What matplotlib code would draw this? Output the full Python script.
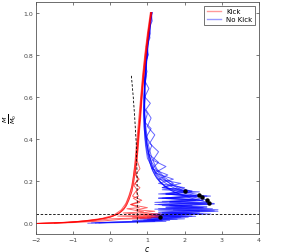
import matplotlib
matplotlib.use('Agg')
import matplotlib.pyplot as plt

# "Kick" runs (red): c values and M/M0 values
kick_c = [
    [1.1, 1.02, 0.95, 0.89, 0.84, 0.8, 0.76, 0.73, 0.7, 0.67, 0.63, 0.58, 0.52, 0.45, 0.36, 0.22, 0.0, -0.4, -1.0, -1.6, -2.0],
    [1.08, 1.0, 0.93, 0.87, 0.82, 0.77, 0.73, 0.69, 0.66, 0.62, 0.57, 0.5, 0.42, 0.3, 0.1, -0.2, -0.7, -1.3, -1.9],
    [1.12, 1.04, 0.97, 0.91, 0.86, 0.82, 0.78, 0.75, 0.72, 0.8, 0.68, 0.78, 0.66, 0.8, 0.7, 0.76, 0.62, 0.8, 0.55, 0.78,
     0.45, 0.9, 0.35, 1.1, 0.2, 1.3, 0.0, -0.5, -1.2, -2.0],
    [1.1, 1.03, 0.96, 0.9, 0.85, 0.8, 0.76, 0.73, 0.7, 0.66, 0.62, 0.58, 0.5, 0.42, 0.3, 0.15, -0.1, -0.6, -1.2, -2.0],
    [1.11, 1.02, 0.96, 0.9, 0.85, 0.81, 0.77, 0.74, 0.71, 0.68, 0.75, 0.64, 0.72, 0.6, 0.85, 0.55, 1.0, 0.7, 1.2, 0.8,
     1.35, 0.9, 1.4, 0.6, 1.1, 0.3, -0.2, -0.9, -1.5],
    [1.09, 1.01, 0.94, 0.88, 0.83, 0.79, 0.75, 0.71, 0.67, 0.63, 0.59, 0.53, 0.46, 0.38, 0.26, 0.05, -0.3, -0.9, -1.5, -2.0],
]
kick_M = [
    [1.0, 0.9, 0.8, 0.7, 0.6, 0.5, 0.42, 0.35, 0.29, 0.24, 0.19, 0.15, 0.12, 0.09, 0.065, 0.045, 0.03, 0.017, 0.007, 0.002, 0.0],
    [1.0, 0.9, 0.8, 0.7, 0.6, 0.5, 0.42, 0.34, 0.28, 0.22, 0.17, 0.13, 0.095, 0.065, 0.04, 0.025, 0.012, 0.004, 0.0],
    [1.0, 0.9, 0.8, 0.7, 0.6, 0.5, 0.42, 0.35, 0.3, 0.26, 0.23, 0.21, 0.19, 0.17, 0.15, 0.13, 0.12, 0.1, 0.09, 0.075,
     0.07, 0.055, 0.05, 0.04, 0.035, 0.03, 0.022, 0.012, 0.004, 0.0],
    [1.0, 0.9, 0.8, 0.7, 0.6, 0.5, 0.43, 0.36, 0.3, 0.24, 0.19, 0.15, 0.11, 0.08, 0.057, 0.04, 0.025, 0.012, 0.004, 0.0],
    [1.0, 0.9, 0.8, 0.7, 0.6, 0.5, 0.42, 0.35, 0.29, 0.24, 0.21, 0.18, 0.16, 0.13, 0.11, 0.09, 0.075, 0.065, 0.058, 0.05,
     0.045, 0.04, 0.035, 0.03, 0.025, 0.02, 0.012, 0.005, 0.001],
    [1.0, 0.9, 0.8, 0.7, 0.6, 0.5, 0.42, 0.35, 0.28, 0.23, 0.18, 0.14, 0.105, 0.075, 0.052, 0.033, 0.02, 0.009, 0.003, 0.0],
]

# "No Kick" runs (blue)
nokick_c = [
    [1.12, 1.07, 1.02, 0.98, 0.95, 0.93, 0.92, 0.92, 0.94, 0.98, 1.04, 1.12, 1.22, 1.35, 1.5, 1.65, 1.78, 1.88, 1.95, 2.0],
    [1.1, 1.05, 1.0, 0.97, 0.94, 0.92, 0.92, 0.94, 0.98, 1.04, 1.12, 1.22, 1.35, 1.5, 1.68, 1.86, 2.05, 2.22, 2.38],
    [1.12, 1.06, 1.01, 0.97, 0.93, 0.91, 0.9, 0.91, 0.94, 0.99, 1.06, 1.14, 1.25, 1.38, 1.55, 1.75, 1.98, 2.2, 2.35, 2.48],
    [1.11, 1.05, 1.0, 0.96, 0.93, 0.91, 0.91, 0.93, 0.97, 1.03, 1.1, 1.2, 1.32, 1.47, 1.65, 1.87, 2.1, 2.32, 2.48, 2.6],
    [1.13, 1.07, 1.02, 0.98, 0.95, 0.93, 0.93, 0.95, 0.99, 1.05, 1.13, 1.23, 1.36, 1.52, 1.72, 1.95, 2.18, 2.4, 2.55, 2.65],
    [1.1, 1.13, 1.03, 1.07, 0.97, 1.02, 0.94, 0.99, 0.92, 1.04, 0.93, 1.08, 0.96, 1.1, 1.0, 1.2, 1.06, 1.3, 1.15, 1.5,
     1.2, 1.7, 1.3, 2.0, 1.4, 2.4, 1.5, 2.7, 1.3, 2.5, 1.4, 2.8, 1.2, 2.6, 1.5, 2.9, 1.3, 2.4, 1.1, 2.2,
     1.0, 1.8, 0.6, 1.2, 0.0, -0.4],
    [1.12, 1.06, 1.08, 0.99, 1.02, 0.95, 0.98, 0.92, 0.95, 0.91, 1.0, 0.93, 1.1, 0.97, 1.12, 1.03, 1.3, 1.12, 1.55, 1.3,
     1.9, 1.4, 2.2, 1.3, 2.6, 1.5, 2.3, 1.2, 2.7, 1.6, 2.5, 1.3, 2.8, 1.4, 2.2, 1.2, 1.9, 1.0, 1.4, 0.5,
     -0.2, -0.6],
    [1.1, 1.06, 1.0, 0.97, 0.93, 0.91, 0.9, 0.92, 0.95, 1.0, 1.15, 1.35, 1.6, 1.9, 2.2, 1.5, 2.1, 1.4, 2.4, 1.6,
     2.6, 1.3, 2.2, 1.5, 2.75, 1.7, 2.9, 1.4, 2.5, 1.2, 2.3, 1.1, 2.0, 0.9, 1.5, 0.4, -0.3],
    [1.11, 1.05, 1.0, 0.96, 0.93, 0.92, 0.93, 0.97, 1.03, 1.12, 1.25, 1.45, 1.7, 1.4, 2.0, 1.5, 2.3, 1.3, 2.5, 1.6,
     2.8, 1.4, 2.6, 1.2, 2.4, 1.3, 2.7, 1.1, 2.1, 0.8, 1.6, 0.2, -0.5],
]
nokick_M = [
    [1.0, 0.93, 0.86, 0.79, 0.72, 0.65, 0.58, 0.51, 0.44, 0.38, 0.33, 0.29, 0.26, 0.23, 0.205, 0.185, 0.172, 0.163, 0.157, 0.153],
    [1.0, 0.92, 0.84, 0.76, 0.68, 0.6, 0.52, 0.45, 0.39, 0.33, 0.28, 0.24, 0.21, 0.19, 0.172, 0.158, 0.148, 0.142, 0.137],
    [1.0, 0.92, 0.84, 0.76, 0.68, 0.6, 0.53, 0.46, 0.4, 0.34, 0.29, 0.25, 0.215, 0.19, 0.17, 0.155, 0.145, 0.136, 0.13, 0.124],
    [1.0, 0.92, 0.84, 0.76, 0.68, 0.6, 0.52, 0.45, 0.38, 0.32, 0.27, 0.23, 0.2, 0.175, 0.155, 0.14, 0.13, 0.122, 0.116, 0.112],
    [1.0, 0.92, 0.84, 0.76, 0.68, 0.6, 0.52, 0.45, 0.38, 0.32, 0.27, 0.23, 0.195, 0.17, 0.15, 0.133, 0.12, 0.11, 0.103, 0.097],
    [1.0, 0.96, 0.92, 0.88, 0.84, 0.8, 0.76, 0.72, 0.68, 0.64, 0.6, 0.57, 0.54, 0.5, 0.46, 0.42, 0.38, 0.34, 0.3, 0.27,
     0.24, 0.21, 0.19, 0.17, 0.16, 0.15, 0.14, 0.13, 0.12, 0.11, 0.105, 0.095, 0.09, 0.08, 0.075, 0.065, 0.06, 0.05, 0.045, 0.035,
     0.03, 0.02, 0.015, 0.01, 0.005, 0.002],
    [1.0, 0.95, 0.9, 0.85, 0.8, 0.75, 0.7, 0.65, 0.6, 0.55, 0.52, 0.48, 0.45, 0.41, 0.37, 0.33, 0.29, 0.26, 0.23, 0.21,
     0.19, 0.17, 0.155, 0.14, 0.13, 0.12, 0.11, 0.1, 0.09, 0.085, 0.075, 0.07, 0.06, 0.05, 0.045, 0.035, 0.03, 0.02, 0.015, 0.008,
     0.004, 0.001],
    [1.0, 0.92, 0.84, 0.76, 0.68, 0.6, 0.52, 0.44, 0.37, 0.31, 0.26, 0.22, 0.19, 0.17, 0.15, 0.14, 0.13, 0.12, 0.115, 0.105,
     0.1, 0.09, 0.085, 0.078, 0.07, 0.064, 0.058, 0.05, 0.045, 0.04, 0.034, 0.028, 0.022, 0.016, 0.01, 0.005, 0.002],
    [1.0, 0.92, 0.84, 0.76, 0.68, 0.6, 0.52, 0.44, 0.37, 0.31, 0.26, 0.22, 0.19, 0.17, 0.155, 0.14, 0.13, 0.12, 0.11, 0.1,
     0.092, 0.085, 0.075, 0.068, 0.06, 0.052, 0.045, 0.038, 0.03, 0.022, 0.015, 0.008, 0.003],
]

# dashed guide curve and threshold
guide_c = [0.57, 0.62, 0.66, 0.70, 0.72, 0.73, 0.73]
guide_M = [0.70, 0.60, 0.50, 0.38, 0.25, 0.10, 0.0]
threshold = 0.047

# black markers
dot_c = [2.0, 2.38, 2.48, 2.6, 2.65, 1.35]
dot_M = [0.153, 0.137, 0.124, 0.112, 0.097, 0.032]

fig = plt.figure(figsize=(2.87, 2.53), dpi=100)
ax = fig.add_axes([0.125, 0.071, 0.777, 0.917])

for c, m in zip(nokick_c, nokick_M):
    ax.plot(c, m, color='blue', alpha=0.6, lw=0.7)
for c, m in zip(kick_c, kick_M):
    ax.plot(c, m, color='red', alpha=0.6, lw=0.7)

ax.plot(guide_c, guide_M, color='k', ls='--', lw=0.6, dashes=(3, 2))
ax.axhline(threshold, color='k', ls='--', lw=0.6, dashes=(3, 2))
ax.plot(dot_c, dot_M, 'o', color='k', ms=2.2)

ax.plot([], [], color='red', alpha=0.4, lw=1, label='Kick')
ax.plot([], [], color='blue', alpha=0.4, lw=1, label='No Kick')
leg = ax.legend(loc='upper right', fontsize=5, frameon=True, fancybox=False,
                handlelength=2, borderpad=0.4, labelspacing=0.3)
leg.get_frame().set_edgecolor('#333333')
leg.get_frame().set_linewidth(0.6)

ax.set_xlim(-2, 4)
ax.set_ylim(-0.05, 1.05)
ax.set_xticks([-2, -1, 0, 1, 2, 3, 4])
ax.set_yticks([0.0, 0.2, 0.4, 0.6, 0.8, 1.0])
ax.tick_params(direction='in', top=True, right=True, labelsize=4.5,
               length=2, width=0.5, colors='#444444', pad=2)
for s in ax.spines.values():
    s.set_color('#555555')
    s.set_linewidth(0.6)
ax.set_xlabel('$c$', fontsize=5.5)
ax.xaxis.set_label_coords(0.5, -0.045)
ax.set_ylabel(r'$\frac{M}{M_0}$', fontsize=6.5)
ax.yaxis.set_label_coords(-0.075, 0.5)

fig.savefig('out.png', dpi=100)
